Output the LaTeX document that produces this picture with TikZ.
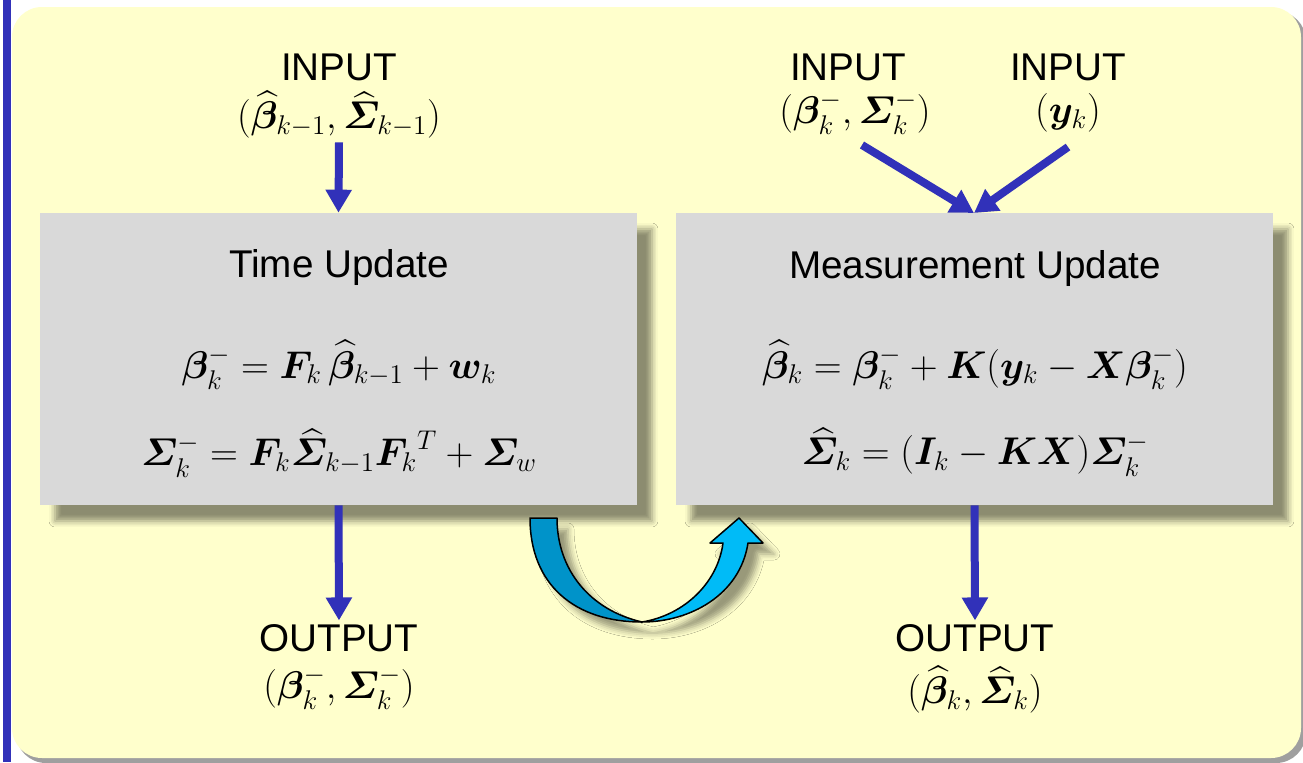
\RequirePackage{fix-cm}
\documentclass[tikz,border=0pt]{standalone}
\usepackage{amsmath,bm}
\usepackage[no-math]{fontspec}
\setmainfont{Liberation Sans}
\usetikzlibrary{arrows.meta,shadows.blur}
\definecolor{padyellow}{HTML}{FFFFCC}
\definecolor{boxgrey}{HTML}{D9D9D9}
\definecolor{flowblue}{HTML}{3131B9}
\definecolor{cyandark}{HTML}{0093C9}
\definecolor{cyanlight}{HTML}{00BBF7}
\begin{document}
\begin{tikzpicture}[
      x=0.02cm, y=-0.02cm,
      every node/.style={font=\fontsize{22}{26}\selectfont, inner sep=2pt},
      stage/.style={fill=boxgrey, minimum width=11.94cm, minimum height=5.84cm,
                    blur shadow={shadow xshift=0.3cm, shadow yshift=-0.32cm,
                                 shadow blur radius=0.12cm, shadow opacity=45}},
      flow/.style={-{Triangle[length=0.46cm,width=0.5cm]}, line width=0.16cm, draw=flowblue},
      swing/.style={draw=black, line width=0.03cm, line join=round}
    ]
    \useasboundingbox (0,0) rectangle (1303,762);

    % Hintergrund
    \fill[white] (0,0) rectangle (1303,762);
    \fill[gray!75, rounded corners=0.6cm] (16,11) rectangle (1306,763);
    \fill[padyellow, rounded corners=0.6cm] (12,7) rectangle (1301,758);
    \fill[flowblue] (3,0) rectangle (10.5,762);

    % Stufen
    \node[stage] (tu) at (338.5,359) {};
    \node[stage] (mu) at (974.5,359) {};

    % Time Update
    \node (tuTitle) at (339,267) {Time Update};
    \node (tuEqA) at (339,365) {$\bm{\beta}_k^- = \bm{F}_k\,\widehat{\bm{\beta}}_{k-1} + \bm{w}_k$};
    \node (tuEqB) at (339,453) {$\bm{\varSigma}_k^- = \bm{F}_k\widehat{\bm{\varSigma}}_{k-1}{\bm{F}_k}^T + \bm{\varSigma}_w$};

    % Measurement Update
    \node (muTitle) at (975,268) {Measurement Update};
    \node (muEqA) at (975,365) {$\widehat{\bm{\beta}}_k = \bm{\beta}_k^- + \bm{K}(\bm{y}_k - \bm{X}\bm{\beta}_k^-)$};
    \node (muEqB) at (975,452) {$\widehat{\bm{\varSigma}}_k = (\bm{I}_k - \bm{K}\bm{X})\bm{\varSigma}_k^-$};

    % Eingaben
    \node (inL)  at (339,67)  {INPUT};
    \node (inLf) at (339,115) {$(\widehat{\bm{\beta}}_{k-1},\widehat{\bm{\varSigma}}_{k-1})$};
    \node (inM)  at (848,67)  {INPUT};
    \node (inMf) at (855,113) {$(\bm{\beta}_k^-,\bm{\varSigma}_k^-)$};
    \node (inY)  at (1068,67) {INPUT};
    \node (inYf) at (1068,113) {$(\bm{y}_k)$};

    % Ausgaben
    \node (outL)  at (339,638) {OUTPUT};
    \node (outLf) at (339,688) {$(\bm{\beta}_k^-,\bm{\varSigma}_k^-)$};
    \node (outR)  at (975,638) {OUTPUT};
    \node (outRf) at (975,690) {$(\widehat{\bm{\beta}}_k,\widehat{\bm{\varSigma}}_k)$};

    % Pfeile
    \coordinate (muIn) at (974,213);
    \coordinate (mStart) at (862,145);
    \coordinate (yStart) at (1068,147);
    \draw[flow] (inLf.south) -- (tu.north);
    \draw[flow] (mStart) -- (muIn);
    \draw[flow] (yStart) -- (muIn);
    \draw[flow] (tu.south) -- (outL.north);
    \draw[flow] (mu.south) -- (outR.north);

    % Bogenpfeil
    \fill[cyanlight, blur shadow={shadow xshift=0.22cm, shadow yshift=-0.22cm,
                                  shadow blur radius=0.12cm, shadow opacity=40}]
      (530,518) -- (557,518) .. controls (557,570) and (590,610) .. (642,622)
      .. controls (685,615) and (718,582) .. (723,543) -- (710,543) -- (739,518)
      -- (763,543) -- (748,543) .. controls (740,595) and (690,622) .. (642,622)
      .. controls (575,622) and (530,585) .. (530,518) -- cycle;
    \fill[cyandark]
      (530,518) -- (557,518) .. controls (557,570) and (590,610) .. (642,622)
      .. controls (575,622) and (530,585) .. (530,518) -- cycle;
    \draw[swing]
      (530,518) -- (557,518) .. controls (557,570) and (590,610) .. (642,622)
      .. controls (685,615) and (718,582) .. (723,543) -- (710,543) -- (739,518)
      -- (763,543) -- (748,543) .. controls (740,595) and (690,622) .. (642,622)
      .. controls (575,622) and (530,585) .. (530,518) -- cycle;
  \end{tikzpicture}
\end{document}
